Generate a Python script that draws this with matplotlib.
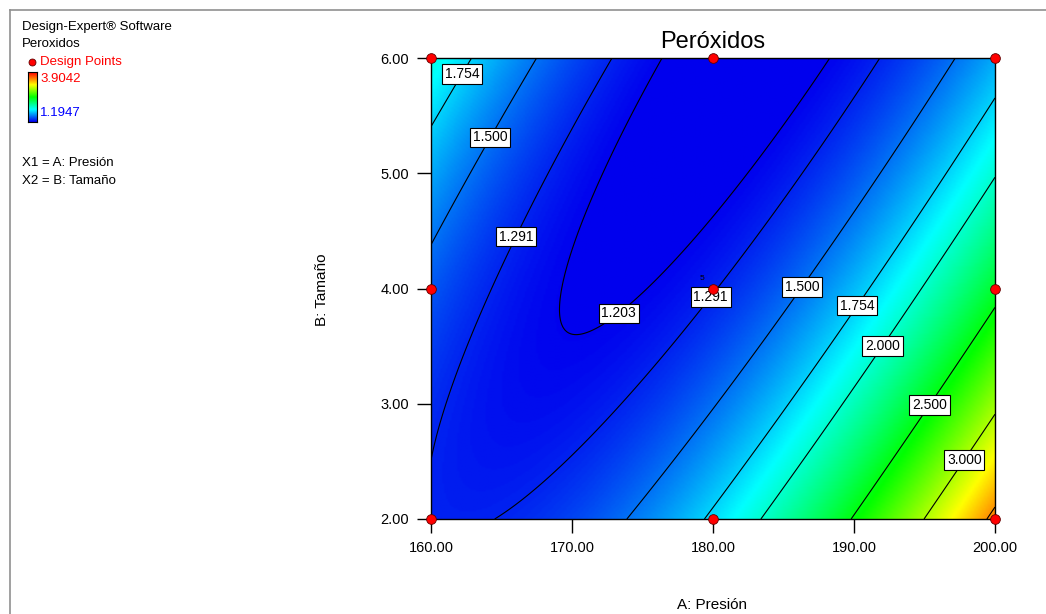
import numpy as np
import matplotlib.pyplot as plt
from matplotlib.colors import LinearSegmentedColormap
from matplotlib.lines import Line2D

plt.rcParams['font.family'] = ['Liberation Sans', 'DejaVu Sans']

# quadratic model in coded units: b0, A, B, AB, A^2, B^2
coef = [1.2835, 0.4945, -0.3165, -0.6445, 0.642, 0.188]
pres_range = [160.0, 200.0]
tam_range = [2.0, 6.0]

# design points (3x3 factorial, center replicated)
pts_pres = [160, 160, 160, 180, 180, 180, 200, 200, 200]
pts_tam = [2, 4, 6, 2, 4, 6, 2, 4, 6]
center_reps = 5

resp_min = 1.1947
resp_max = 3.9042

levels = [1.203, 1.291, 1.500, 1.754, 2.000, 2.500, 3.000, 3.500]
label_pos = [(161.8, 5.89), (163.8, 5.34), (165.7, 4.47), (172.9, 3.85),
             (179.5, 3.96), (186.0, 4.04), (189.9, 3.88), (191.7, 3.53),
             (195.0, 3.02), (197.5, 2.54)]


def model(p, t):
    a = (p - 180.0) / 20.0
    b = (t - 4.0) / 2.0
    return (coef[0] + coef[1] * a + coef[2] * b + coef[3] * a * b
            + coef[4] * a ** 2 + coef[5] * b ** 2)


de_cmap = LinearSegmentedColormap.from_list(
    "de", ["#0000ee", "#00ffff", "#00ff00", "#ffff00", "#ff0000"])

fig = plt.figure(figsize=(10.46, 6.14), dpi=100)

# outer frame
fig.add_artist(Line2D([10 / 1046, 10 / 1046], [0, 1 - 10 / 614], color="#909090", lw=1.2))
fig.add_artist(Line2D([10 / 1046, 1], [1 - 10 / 614, 1 - 10 / 614], color="#909090", lw=1.2))

ax = fig.add_axes([431 / 1046, (614 - 519) / 614, 564 / 1046, 461 / 614])

pg = np.linspace(pres_range[0], pres_range[1], 300)
tg = np.linspace(tam_range[0], tam_range[1], 300)
P, T = np.meshgrid(pg, tg)
Z = model(P, T)

ax.imshow(Z, origin="lower", extent=[*pres_range, *tam_range], aspect="auto",
          cmap=de_cmap, vmin=resp_min, vmax=resp_max, interpolation="bilinear")
cs = ax.contour(P, T, Z, levels=levels, colors="black", linewidths=0.8)
labels = ax.clabel(cs, levels=levels[:-1], fmt="%.3f", inline=False,
                   manual=label_pos, fontsize=10)
for lb in labels:
    lb.set_rotation(0)
    lb.set_bbox(dict(facecolor="white", edgecolor="black", linewidth=0.8, pad=2))
    lb.set_zorder(5)

ax.plot(pts_pres, pts_tam, "o", color="red", markeredgecolor="#600000",
        markeredgewidth=0.6, markersize=7, clip_on=False, zorder=6)
ax.text(179.2, 4.06, str(center_reps), fontsize=6, ha="center", va="bottom", zorder=7)

ax.set_xlim(pres_range)
ax.set_ylim(tam_range)
ax.set_xticks([160, 170, 180, 190, 200])
ax.set_yticks([2, 3, 4, 5, 6])
ax.xaxis.set_major_formatter("{x:.2f}")
ax.yaxis.set_major_formatter("{x:.2f}")
ax.tick_params(direction="out", length=10, width=1, labelsize=10.5, pad=6)
for sp in ax.spines.values():
    sp.set_linewidth(1)

ax.set_title("Peróxidos", fontsize=17, pad=7)
fig.text(712 / 1046, 1 - 605 / 614, "A: Presión", fontsize=11, ha="center", va="center")
fig.text(322 / 1046, 1 - 290 / 614, "B: Tamaño", fontsize=11, ha="center", va="center",
         rotation=90)

# left-hand info block
fs = 9.5
fig.text(22 / 1046, 1 - 27 / 614, "Design-Expert® Software", fontsize=fs, va="center")
fig.text(22 / 1046, 1 - 44 / 614, "Peroxidos", fontsize=fs, va="center")
fig.add_artist(Line2D([32 / 1046], [1 - 62 / 614], marker="o", color="red",
                      markeredgecolor="#600000", markersize=5, markeredgewidth=0.6))
fig.text(40 / 1046, 1 - 62 / 614, "Design Points", fontsize=fs, va="center", color="red")

cax = fig.add_axes([28 / 1046, 1 - 122 / 614, 9 / 1046, 50 / 614])
cax.imshow(np.linspace(0, 1, 100)[:, None], origin="lower", aspect="auto", cmap=de_cmap,
           extent=[0, 1, 0, 1])
cax.set_xticks([])
cax.set_yticks([])
fig.text(40 / 1046, 1 - 79 / 614, f"{resp_max:.4f}", fontsize=fs, va="center", color="red")
fig.text(40 / 1046, 1 - 113 / 614, f"{resp_min:.4f}", fontsize=fs, va="center", color="blue")

fig.text(22 / 1046, 1 - 163 / 614, "X1 = A: Presión", fontsize=fs, va="center")
fig.text(22 / 1046, 1 - 181 / 614, "X2 = B: Tamaño", fontsize=fs, va="center")

fig.savefig("out.png", dpi=100)
